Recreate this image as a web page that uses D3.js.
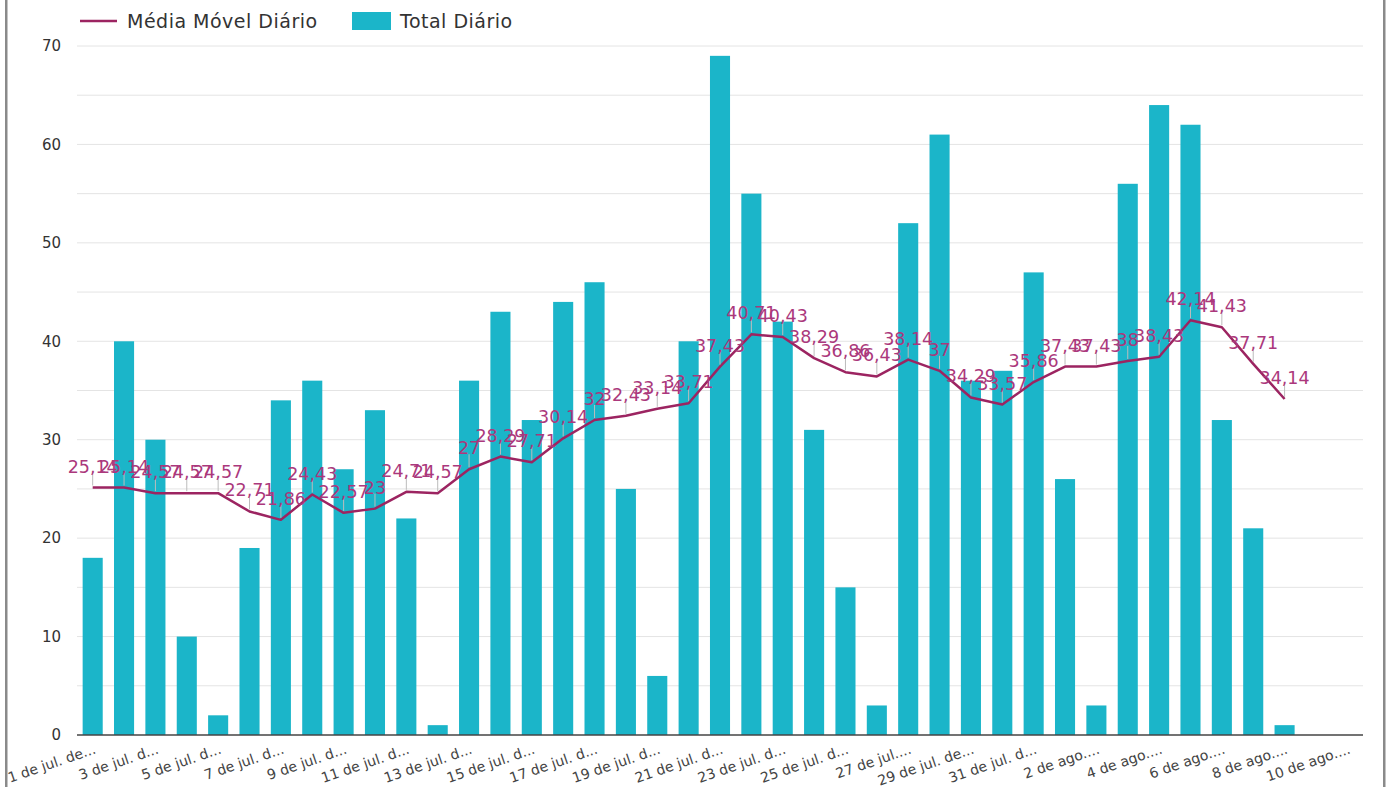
<!DOCTYPE html>
<html>
<head>
<meta charset="utf-8">
<script src="https://cdn.jsdelivr.net/npm/d3@7"></script>
<style>
    body { margin: 0; background: #fff; }
    svg { display: block; font-family: "DejaVu Sans", sans-serif; }
</style>
</head>
<body>
<div id="chart"></div>
<script>
// dias do período
const dias = [
    '1 jul', '2 jul', '3 jul', '4 jul', '5 jul', '6 jul', '7 jul', '8 jul', '9 jul', '10 jul',
    '11 jul', '12 jul', '13 jul', '14 jul', '15 jul', '16 jul', '17 jul', '18 jul', '19 jul', '20 jul',
    '21 jul', '22 jul', '23 jul', '24 jul', '25 jul', '26 jul', '27 jul', '28 jul', '29 jul', '30 jul',
    '31 jul', '1 ago', '2 ago', '3 ago', '4 ago', '5 ago', '6 ago', '7 ago', '8 ago', '9 ago', '10 ago'
];

const totalDiario = [
    18, 40, 30, 10, 2, 19, 34, 36, 27, 33,
    22, 1, 36, 43, 32, 44, 46, 25, 6, 40,
    69, 55, 42, 31, 15, 3, 52, 61, 36, 37,
    47, 26, 3, 56, 64, 62, 32, 21, 1
];

const mediaMovel = [
    25.14, 25.14, 24.57, 24.57, 24.57, 22.71, 21.86, 24.43, 22.57, 23,
    24.71, 24.57, 27, 28.29, 27.71, 30.14, 32, 32.43, 33.14, 33.71,
    37.43, 40.71, 40.43, 38.29, 36.86, 36.43, 38.14, 37, 34.29, 33.57,
    35.86, 37.43, 37.43, 38, 38.43, 42.14, 41.43, 37.71, 34.14
];

const rotulosX = [
    '1 de jul. de...', '3 de jul. d...', '5 de jul. d...', '7 de jul. d...', '9 de jul. d...',
    '11 de jul. d...', '13 de jul. d...', '15 de jul. d...', '17 de jul. d...', '19 de jul. d...',
    '21 de jul. d...', '23 de jul. d...', '25 de jul. d...', '27 de jul....', '29 de jul. de...',
    '31 de jul. d...', '2 de ago....', '4 de ago....', '6 de ago....', '8 de ago....', '10 de ago....'
];

const ticksY = [0, 10, 20, 30, 40, 50, 60, 70];
const gradeY = [5, 10, 15, 20, 25, 30, 35, 40, 45, 50, 55, 60, 65, 70];

const COR_BARRA = '#1bb5c9';
const COR_LINHA = '#9c2461';
const COR_ROTULO = '#ab387c';

const width = 1390, height = 787;
const margem = { left: 77, right: 1363, top: 46, bottom: 735 };

const svg = d3.select('#chart').append('svg')
    .attr('width', width)
    .attr('height', height);

// bordas laterais
svg.append('rect').attr('x', 5).attr('y', 0).attr('width', 2.5).attr('height', height).attr('fill', '#8a8a8a');
svg.append('rect').attr('x', 1383).attr('y', 0).attr('width', 2.5).attr('height', height).attr('fill', '#8a8a8a');

const x = d3.scaleBand()
    .domain(dias)
    .range([margem.left, margem.right])
    .paddingInner(0.36)
    .paddingOuter(0.18);

const y = d3.scaleLinear()
    .domain([0, 70])
    .range([margem.bottom, margem.top]);

// grade
svg.append('g')
    .selectAll('line')
    .data(gradeY)
    .join('line')
    .attr('x1', margem.left)
    .attr('x2', margem.right)
    .attr('y1', d => y(d))
    .attr('y2', d => y(d))
    .attr('stroke', '#e4e4e4')
    .attr('stroke-width', 1);

// eixo y
svg.append('g')
    .selectAll('text')
    .data(ticksY)
    .join('text')
    .attr('x', 61)
    .attr('y', d => y(d))
    .attr('dy', '0.35em')
    .attr('text-anchor', 'end')
    .attr('font-size', 15)
    .attr('fill', '#333')
    .text(d => d);

// barras
svg.append('g')
    .selectAll('rect')
    .data(totalDiario)
    .join('rect')
    .attr('x', (d, i) => x(dias[i]))
    .attr('y', d => y(d))
    .attr('width', x.bandwidth())
    .attr('height', d => y(0) - y(d))
    .attr('fill', COR_BARRA);

// linha base
svg.append('line')
    .attr('x1', margem.left).attr('x2', margem.right)
    .attr('y1', y(0)).attr('y2', y(0))
    .attr('stroke', '#444')
    .attr('stroke-width', 1.5);

// rótulos do eixo x
const cx = d => x(d) + x.bandwidth() / 2;
svg.append('g')
    .selectAll('text')
    .data(rotulosX)
    .join('text')
    .attr('transform', (d, i) => `translate(${cx(dias[i * 2]) + 4},${margem.bottom + 18}) rotate(-19)`)
    .attr('text-anchor', 'end')
    .attr('font-size', 14)
    .attr('fill', '#444')
    .text(d => d);

// média móvel
const linha = d3.line()
    .x((d, i) => cx(dias[i]))
    .y(d => y(d));

svg.append('path')
    .datum(mediaMovel)
    .attr('d', linha)
    .attr('fill', 'none')
    .attr('stroke', COR_LINHA)
    .attr('stroke-width', 2.5)
    .attr('stroke-linejoin', 'round');

// guias dos rótulos
svg.append('g')
    .selectAll('line')
    .data(mediaMovel)
    .join('line')
    .attr('x1', (d, i) => cx(dias[i]))
    .attr('x2', (d, i) => cx(dias[i]))
    .attr('y1', d => y(d) - 2)
    .attr('y2', d => y(d) - 15)
    .attr('stroke', '#bcbcbc')
    .attr('stroke-width', 1);

svg.append('g')
    .selectAll('text')
    .data(mediaMovel)
    .join('text')
    .attr('x', (d, i) => cx(dias[i]))
    .attr('y', d => y(d) - 15)
    .attr('text-anchor', 'middle')
    .attr('font-size', 17.5)
    .attr('fill', COR_ROTULO)
    .text(d => d3.format('.2~f')(d).replace('.', ','));

// legenda
const leg = svg.append('g');
leg.append('line')
    .attr('x1', 80).attr('x2', 117)
    .attr('y1', 21).attr('y2', 21)
    .attr('stroke', COR_LINHA)
    .attr('stroke-width', 2.5);
leg.append('text')
    .attr('x', 127).attr('y', 21)
    .attr('dy', '0.35em')
    .attr('font-size', 19)
    .attr('letter-spacing', 0.5)
    .attr('fill', '#333')
    .text('Média Móvel Diário');
leg.append('rect')
    .attr('x', 352).attr('y', 12)
    .attr('width', 39).attr('height', 18)
    .attr('fill', COR_BARRA);
leg.append('text')
    .attr('x', 400).attr('y', 21)
    .attr('dy', '0.35em')
    .attr('font-size', 19)
    .attr('letter-spacing', 0.5)
    .attr('fill', '#333')
    .text('Total Diário');
</script>
</body>
</html>
